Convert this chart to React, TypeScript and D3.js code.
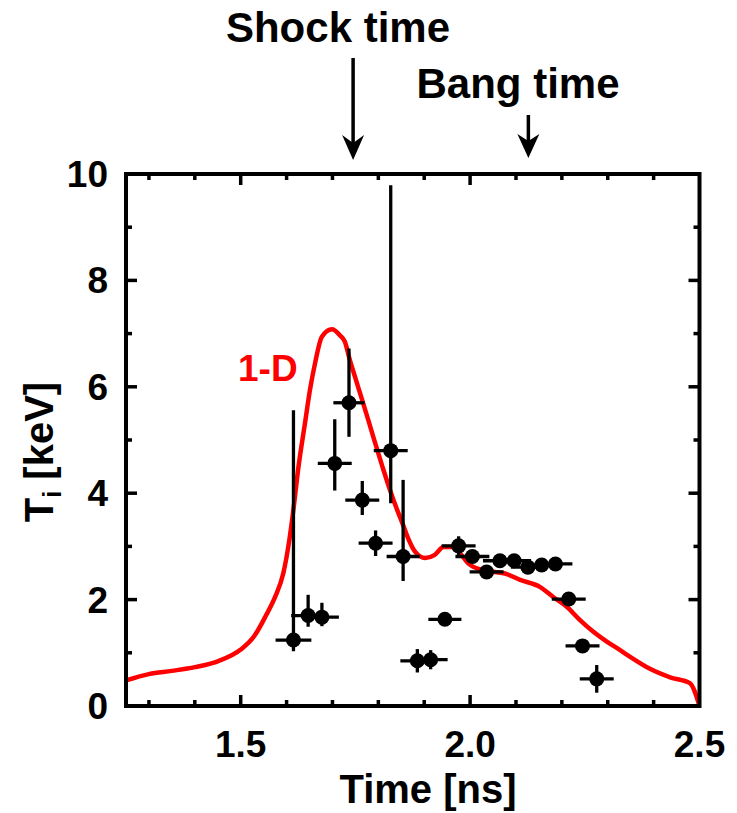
import React from "react";
import * as d3 from "d3";

const W = 737;
const H = 813;

// Measured data points: time [ns], Ti [keV], y error up/down, x error
const ptTime = [1.615, 1.647, 1.677, 1.705, 1.736, 1.765, 1.794, 1.827, 1.854, 1.885, 1.914, 1.945, 1.975, 2.005, 2.036, 2.065, 2.096, 2.126, 2.156, 2.186, 2.215, 2.245, 2.276];
const ptTi = [1.24, 1.70, 1.67, 4.56, 5.70, 3.87, 3.06, 4.80, 2.81, 0.85, 0.87, 1.63, 3.01, 2.81, 2.52, 2.73, 2.73, 2.61, 2.65, 2.67, 2.01, 1.13, 0.51];
const ptErrUp = [4.32, 0.39, 0.27, 0.83, 1.02, 0.36, 0.24, 4.99, 1.44, 0.22, 0.18, 0.08, 0.18, 0.08, 0.08, 0.08, 0.08, 0.08, 0.08, 0.08, 0.08, 0.08, 0.26];
const ptErrDown = [0.21, 0.21, 0.17, 0.51, 0.64, 0.28, 0.24, 0.99, 0.46, 0.22, 0.18, 0.08, 0.18, 0.08, 0.08, 0.08, 0.08, 0.08, 0.08, 0.08, 0.08, 0.08, 0.26];
const ptErrX = [0.039, 0.037, 0.037, 0.037, 0.034, 0.037, 0.037, 0.037, 0.036, 0.037, 0.037, 0.036, 0.037, 0.037, 0.037, 0.037, 0.037, 0.037, 0.037, 0.037, 0.037, 0.037, 0.037];

// 1-D simulation curve
const simTime = [1.25, 1.30, 1.35, 1.40, 1.45, 1.50, 1.53, 1.555, 1.575, 1.593, 1.606, 1.615, 1.626, 1.64, 1.651, 1.662, 1.677, 1.699, 1.716, 1.727, 1.738, 1.749, 1.767, 1.789, 1.811, 1.833, 1.854, 1.865, 1.88, 1.902, 1.923, 1.942, 1.96, 1.978, 1.996, 2.025, 2.054, 2.076, 2.109, 2.152, 2.181, 2.21, 2.239, 2.268, 2.298, 2.327, 2.348, 2.392, 2.436, 2.479, 2.5];
const simTi = [0.48, 0.60, 0.66, 0.73, 0.84, 1.06, 1.32, 1.70, 2.05, 2.50, 3.12, 3.70, 4.50, 5.31, 5.94, 6.44, 6.94, 7.08, 6.97, 6.85, 6.50, 6.19, 5.69, 5.06, 4.44, 3.87, 3.40, 3.15, 2.90, 2.78, 2.84, 2.99, 2.99, 2.87, 2.68, 2.56, 2.52, 2.49, 2.37, 2.24, 2.05, 1.87, 1.62, 1.40, 1.21, 1.05, 0.93, 0.70, 0.54, 0.43, 0.0];

const xTickLabels = [1.5, 2.0, 2.5];
const yTickLabels = [0, 2, 4, 6, 8, 10];
const xMinorTicks = [1.3, 1.4, 1.5, 1.6, 1.7, 1.8, 1.9, 2.0, 2.1, 2.2, 2.3, 2.4];
const yMinorTicks = [1, 2, 3, 4, 5, 6, 7, 8, 9];

const shockTime = 1.745;
const bangTime = 2.127;

const FONT = "'Liberation Sans', Arial, Helvetica, sans-serif";

export default function App() {
  const left = 126, right = 699.5, top = 174, bottom = 706;
  const x = d3.scaleLinear().domain([1.25, 2.5]).range([left, right]);
  const y = d3.scaleLinear().domain([0, 10]).range([bottom, top]);

  const line = d3
    .line<number>()
    .x((_, i) => x(simTime[i]))
    .y((_, i) => y(simTi[i]))
    .curve(d3.curveMonotoneX);
  const simPath = line(simTime) || "";

  const majorX = (v: number) => xTickLabels.some((t) => Math.abs(t - v) < 1e-6);
  const majorY = (v: number) => yTickLabels.some((t) => Math.abs(t - v) < 1e-6);

  const sx = x(shockTime);
  const bx = x(bangTime);

  return (
    <svg width={W} height={H} style={{ position: "absolute", left: 0, top: 0, background: "#fff" }}>
      <rect x={0} y={0} width={W} height={H} fill="#fff" />
      <defs>
        <clipPath id="plotclip">
          <rect x={left} y={top - 20} width={right - left} height={bottom - top + 20} />
        </clipPath>
      </defs>

      {/* ticks */}
      <g stroke="#000" strokeWidth={3.5}>
        {xMinorTicks.map((v) => {
          const len = majorX(v) ? 11 : 6;
          return (
            <g key={"xt" + v}>
              <line x1={x(v)} x2={x(v)} y1={bottom} y2={bottom - len} />
              <line x1={x(v)} x2={x(v)} y1={top} y2={top + len} />
            </g>
          );
        })}
        {yMinorTicks.map((v) => {
          const len = majorY(v) ? 11 : 6;
          return (
            <g key={"yt" + v}>
              <line x1={left} x2={left + len} y1={y(v)} y2={y(v)} />
              <line x1={right} x2={right - len} y1={y(v)} y2={y(v)} />
            </g>
          );
        })}
      </g>

      {/* simulation curve */}
      <path d={simPath} fill="none" stroke="#ff0000" strokeWidth={4.5} strokeLinejoin="round" clipPath="url(#plotclip)" />

      {/* data points */}
      <g stroke="#000" strokeWidth={3.3}>
        {ptTime.map((t, i) => (
          <g key={"p" + i}>
            <line x1={x(t - ptErrX[i])} x2={x(t + ptErrX[i])} y1={y(ptTi[i])} y2={y(ptTi[i])} />
            <line x1={x(t)} x2={x(t)} y1={y(ptTi[i] + ptErrUp[i])} y2={y(ptTi[i] - ptErrDown[i])} />
            <circle cx={x(t)} cy={y(ptTi[i])} r={7.5} fill="#000" stroke="none" />
          </g>
        ))}
      </g>

      {/* frame */}
      <rect x={left} y={top} width={right - left} height={bottom - top} fill="none" stroke="#000" strokeWidth={4} />

      {/* tick labels */}
      <g fontFamily={FONT} fontWeight="bold" fontSize={37} fill="#000">
        {xTickLabels.map((v) => (
          <text key={"xl" + v} x={x(v)} y={757} textAnchor="middle">
            {d3.format(".1f")(v)}
          </text>
        ))}
        {yTickLabels.map((v) => (
          <text key={"yl" + v} x={108} y={y(v) + 13} textAnchor="end">
            {v}
          </text>
        ))}
      </g>

      {/* axis titles */}
      <text x={428} y={803} textAnchor="middle" fontFamily={FONT} fontWeight="bold" fontSize={40}>
        Time [ns]
      </text>
      <text
        transform={`translate(53, ${452}) rotate(-90)`}
        textAnchor="middle"
        fontFamily={FONT}
        fontWeight="bold"
        fontSize={40}
      >
        T<tspan fontSize={25} dy={8}>i</tspan>
        <tspan dy={-8}> [keV]</tspan>
      </text>

      {/* 1-D label */}
      <text x={238} y={381} fontFamily={FONT} fontWeight="bold" fontSize={37} fill="#ff0000">
        1-D
      </text>

      {/* annotations */}
      <g fontFamily={FONT} fontWeight="bold" fontSize={42} fill="#000">
        <text x={338} y={42} textAnchor="middle">Shock time</text>
        <text x={518} y={98} textAnchor="middle">Bang time</text>
      </g>
      <g stroke="#000" strokeWidth={3.5}>
        <line x1={sx} x2={sx} y1={58} y2={150} />
        <line x1={bx} x2={bx} y1={115} y2={148} />
      </g>
      <path d={`M${sx - 11},${135} L${sx},${160} L${sx + 11},${135} L${sx},${143} Z`} fill="#000" />
      <path d={`M${bx - 11},${134} L${bx},${158} L${bx + 11},${134} L${bx},${141} Z`} fill="#000" />
    </svg>
  );
}
